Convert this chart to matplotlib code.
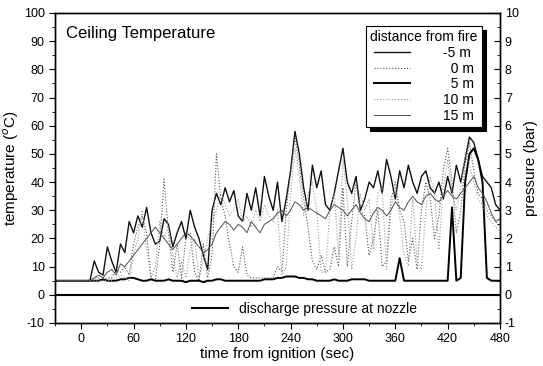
import numpy as np
import matplotlib.pyplot as plt
from matplotlib.ticker import MultipleLocator

plt.rcParams['font.family'] = ['Liberation Sans', 'DejaVu Sans']
plt.rcParams['axes.unicode_minus'] = False

# time axis (sec), 5 s steps from -30 to 480
time = np.arange(-30, 481, 5)

# ceiling temperature (deg C) at each distance from the fire
temp_m5 = [5, 5, 5, 5, 5, 5, 5, 5, 5,
           12, 8, 7, 17, 12, 8, 18, 15, 26, 22, 28, 24, 31, 22, 18, 19,
           27, 25, 17, 22, 26, 20, 30, 24, 20, 14, 9, 30, 36, 32, 38, 33,
           37, 28, 26, 36, 30, 38, 28, 42, 35, 30, 40, 26, 34, 44, 58, 50,
           38, 30, 46, 38, 44, 32, 30, 36, 44, 52, 40, 36, 42, 30, 34, 40,
           38, 44, 36, 48, 42, 34, 44, 38, 46, 40, 36, 42, 44, 38, 36, 40,
           34, 42, 36, 46, 40, 48, 56, 54, 48, 42, 40, 38, 32, 30]
temp_0 = [5, 5, 5, 5, 5, 5, 5, 5, 5,
          6, 6, 5, 6, 6, 9, 8, 10, 7, 18, 24, 28, 22, 6, 5, 18,
          41, 22, 8, 18, 6, 20, 22, 8, 5, 18, 6, 14, 50, 34, 28, 18,
          10, 8, 17, 7, 6, 6, 6, 6, 6, 6, 10, 8, 30, 44, 56, 46,
          34, 24, 12, 9, 14, 8, 9, 17, 10, 38, 10, 26, 40, 30, 28, 14,
          20, 30, 10, 12, 34, 40, 30, 26, 12, 20, 9, 30, 40, 34, 20, 28,
          44, 52, 40, 22, 30, 46, 54, 44, 36, 34, 30, 28, 26, 24]
temp_5 = [5, 5, 5, 5, 5, 5, 5, 5, 5,
          5, 5, 5.5, 5, 5, 5, 5.5, 5.5, 6, 6, 5.5, 5, 5, 5.5, 5, 5,
          5, 5.5, 5, 5, 5, 4.5, 5, 5, 5, 4.5, 5, 5, 5.5, 5.5, 5, 5,
          5, 5, 5, 5, 5, 5, 5, 5.5, 5.5, 5.5, 6, 6, 6.5, 6.5, 6.5, 6,
          6, 5.5, 5.5, 5, 5, 5, 5, 5.5, 5, 5, 5, 5.5, 5.5, 5.5, 5.5, 5,
          5, 5, 5, 5, 5, 5, 13, 5, 5, 5, 5, 5, 5, 5, 5, 5,
          5, 5, 31, 5, 6, 40, 50, 52, 48, 40, 6, 5, 5, 5]
temp_10 = [5, 5, 5, 5, 5, 5, 5, 5, 5,
           5, 5, 5, 5, 5, 6, 7, 6, 5, 14, 20, 30, 16, 6, 10, 26,
           20, 24, 14, 6, 12, 6, 16, 20, 6, 12, 20, 26, 30, 36, 32, 28,
           30, 34, 26, 28, 24, 30, 26, 32, 28, 26, 30, 7, 10, 36, 52, 42,
           28, 36, 40, 30, 8, 8, 30, 36, 14, 48, 34, 9, 20, 36, 30, 34,
           16, 36, 38, 9, 30, 38, 28, 14, 10, 34, 12, 9, 30, 42, 36, 16,
           38, 48, 36, 30, 38, 50, 46, 40, 34, 32, 28, 26, 24, 22]
temp_15 = [5, 5, 5, 5, 5, 5, 5, 5, 5,
           6, 7, 6, 8, 9, 7, 11, 10, 12, 14, 16, 18, 20, 22, 24, 22,
           20, 18, 16, 18, 20, 22, 21, 19, 17, 15, 16, 18, 22, 24, 26, 25,
           23, 25, 24, 22, 26, 24, 22, 25, 26, 27, 29, 30, 28, 30, 33, 32,
           30, 31, 30, 29, 28, 27, 30, 32, 31, 30, 28, 30, 32, 29, 27, 26,
           29, 31, 30, 28, 30, 33, 31, 30, 33, 35, 33, 32, 35, 36, 34, 33,
           35, 37, 35, 34, 36, 38, 40, 42, 38, 36, 33, 29, 26, 27]

# discharge pressure at nozzle (bar)
press_time = [-30, 480]
pressure = [0.0, 0.0]

fig = plt.figure(figsize=(5.43, 3.66), dpi=100)
ax = fig.add_axes([0.1013, 0.1175, 0.8195, 0.847])

ax.plot(time, temp_m5, color='#111111', lw=1.0, label='-5 m')
ax.plot(time, temp_0, color='#555555', lw=0.8, ls=':', label='\u20070 m')
ax.plot(time, temp_5, color='black', lw=1.4, label='\u20075 m')
ax.plot(time, temp_10, color='#9a9a9a', lw=0.8, ls=':', label='10 m')
ax.plot(time, temp_15, color='#505050', lw=0.7, label='15 m')

ax.set_xlim(-30, 480)
ax.set_ylim(-10, 100)
ax.xaxis.set_major_locator(MultipleLocator(60))
ax.xaxis.set_minor_locator(MultipleLocator(30))
ax.yaxis.set_major_locator(MultipleLocator(10))
ax.yaxis.set_minor_locator(MultipleLocator(5))
ax.tick_params(which='both', direction='out', labelsize=9, top=False, right=False)
ax.tick_params(which='major', length=4)
ax.tick_params(which='minor', length=2)
ax.set_xlabel('time from ignition (sec)', fontsize=11, labelpad=1)
ax.set_ylabel('temperature ($^o$C)', fontsize=11, labelpad=2)

ax.text(0.025, 0.958, 'Ceiling Temperature', transform=ax.transAxes,
        fontsize=12, va='top', ha='left')

leg = ax.legend(title='distance from fire', loc='upper right',
                bbox_to_anchor=(0.975, 0.98), fontsize=10, title_fontsize=10,
                handlelength=2.6, handletextpad=2.4, labelspacing=0.12,
                borderpad=0.3, fancybox=False, edgecolor='black',
                shadow={'color': 'black', 'ox': 3, 'oy': -3, 'alpha': 1})
leg.get_frame().set_linewidth(0.8)

ax2 = ax.twinx()
ax2.plot(press_time, pressure, color='black', lw=1.5,
         label='discharge pressure at nozzle')
ax2.set_ylim(-1, 10)
ax2.yaxis.set_major_locator(MultipleLocator(1))
ax2.yaxis.set_minor_locator(MultipleLocator(0.5))
ax2.tick_params(which='both', direction='in', labelsize=9)
ax2.tick_params(which='major', length=4)
ax2.tick_params(which='minor', length=2)
ax2.set_ylabel('pressure (bar)', fontsize=11, labelpad=4)
ax2.legend(loc='center left', bbox_to_anchor=(0.28, 0.045), frameon=False,
           fontsize=10, handlelength=2.6, handletextpad=0.8)

for a in (ax, ax2):
    for s in a.spines.values():
        s.set_linewidth(1.0)

fig.savefig('out.png', dpi=100)
